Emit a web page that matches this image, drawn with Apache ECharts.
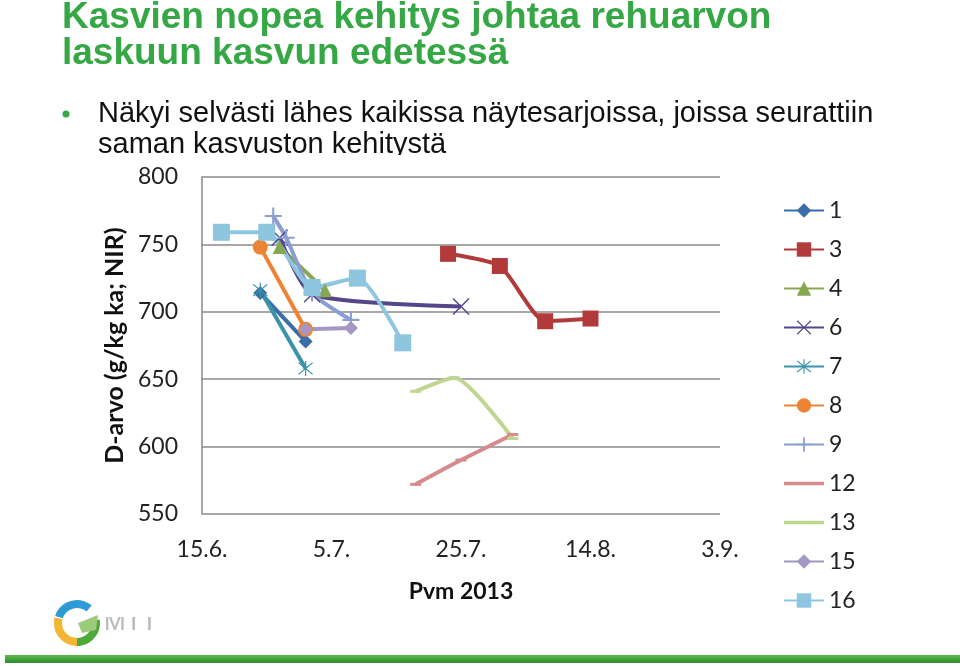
<!DOCTYPE html>
<html><head><meta charset="utf-8">
<script src="https://cdn.jsdelivr.net/npm/echarts@6/dist/echarts.min.js"></script>
<style>html,body{margin:0;padding:0;background:#fff}#c{width:960px;height:666px}</style>
</head><body><div id="c"></div>
<script>
// ---- data ----
const titleLines = ['Kasvien nopea kehitys johtaa rehuarvon', 'laskuun kasvun edetessä'];
const bulletLines = ['Näkyi selvästi lähes kaikissa näytesarjoissa, joissa seurattiin', 'saman kasvuston kehitystä'];
const yAxisName = 'D-arvo (g/kg ka; NIR)';
const xAxisName = 'Pvm 2013';
const xStart = '2013-06-15';
const xTickLabels = ['15.6.', '5.7.', '25.7.', '14.8.', '3.9.'];
const seriesNames = ['1', '3', '4', '6', '7', '8', '9', '12', '13', '15', '16'];

const s1Dates = ['2013-06-24', '2013-07-01'];
const s1Values = [714, 678];
const s3Dates = ['2013-07-23', '2013-07-31', '2013-08-07', '2013-08-14'];
const s3Values = [743, 734, 693, 695];
const s4Dates = ['2013-06-27', '2013-07-04'];
const s4Values = [748, 716];
const s6Dates = ['2013-06-27', '2013-07-02', '2013-07-25'];
const s6Values = [755, 713, 704];
const s7Dates = ['2013-06-24', '2013-07-01'];
const s7Values = [716, 658];
const s8Dates = ['2013-06-24', '2013-07-01'];
const s8Values = [748, 687];
const s9Dates = ['2013-06-26', '2013-06-28', '2013-07-02', '2013-07-08'];
const s9Values = [771, 755, 714, 694];
const s12Dates = ['2013-07-18', '2013-07-25', '2013-08-02'];
const s12Values = [572, 590, 609];
const s13Dates = ['2013-07-18', '2013-07-24', '2013-08-02'];
const s13Values = [641, 651, 606];
const s15Dates = ['2013-07-01', '2013-07-08'];
const s15Values = [687, 688];
const s16Dates = ['2013-06-18', '2013-06-25', '2013-07-02', '2013-07-09', '2013-07-16'];
const s16Values = [759, 759, 718, 725, 677];

// ---- build ----
const dayMs = 86400000;
const t0 = Date.parse(xStart + 'T00:00:00Z');
function pts(dates, vals) {
  return dates.map((d, i) => [(Date.parse(d + 'T00:00:00Z') - t0) / dayMs, vals[i]]);
}
const plusPath = 'path://M-0.12,-1H0.12V-0.12H1V0.12H0.12V1H-0.12V0.12H-1V-0.12H-0.12Z';
const xPath = 'path://M-1,-0.88L-0.88,-1L0,-0.12L0.88,-1L1,-0.88L0.12,0L1,0.88L0.88,1L0,0.12L-0.88,1L-1,0.88L-0.12,0Z';
const starPath = 'path://M-1,-0.88L-0.88,-1L0,-0.12L0.88,-1L1,-0.88L0.12,0L1,0.88L0.88,1L0,0.12L-0.88,1L-1,0.88L-0.12,0Z M-0.08,-1.2H0.08V1.2H-0.08Z';
const lineIcon = 'path://M0,0H40V3.4H0Z';

const defs = [
  {d: pts(s1Dates, s1Values), c: '#3B6EA8', sym: 'diamond', sz: 14},
  {d: pts(s3Dates, s3Values), c: '#B33A3A', sym: 'rect', sz: 16},
  {d: pts(s4Dates, s4Values), c: '#86A84E', sym: 'triangle', sz: 14},
  {d: pts(s6Dates, s6Values), c: '#55468A', sym: xPath, sz: 17},
  {d: pts(s7Dates, s7Values), c: '#3B93AB', sym: starPath, sz: 15},
  {d: pts(s8Dates, s8Values), c: '#EC8433', sym: 'circle', sz: 15},
  {d: pts(s9Dates, s9Values), c: '#8A9ED3', sym: plusPath, sz: 17},
  {d: pts(s12Dates, s12Values), c: '#D68B8D', sym: 'rect', sz: [11, 3], plain: true},
  {d: pts(s13Dates, s13Values), c: '#BED690', sym: 'rect', sz: [11, 3], plain: true},
  {d: pts(s15Dates, s15Values), c: '#A497C4', sym: 'diamond', sz: 14},
  {d: pts(s16Dates, s16Values), c: '#8DC6DE', sym: 'rect', sz: 17}
];
const series = defs.map((s, i) => ({
  name: seriesNames[i], type: 'line', data: s.d, smooth: 0.2,
  symbol: s.sym, symbolSize: s.sz,
  lineStyle: {color: s.c, width: 4},
  itemStyle: {color: s.c},
  emphasis: {disabled: true}, animation: false
}));
const legendData = seriesNames.map((n, i) => defs[i].plain ? {name: n, icon: lineIcon} : n);

const chart = echarts.init(document.getElementById('c'));
const font = 'Lato, "Open Sans", sans-serif';
chart.setOption({
  animation: false,
  backgroundColor: '#fff',
  grid: {left: 202, right: 240, top: 177, bottom: 152},
  xAxis: {
    type: 'value', min: 0, max: 80, interval: 20,
    axisLine: {show: false}, axisTick: {show: false}, splitLine: {show: false},
    axisLabel: {formatter: v => xTickLabels[v / 20], fontSize: 23, color: '#222', fontFamily: font, margin: 24},
    name: xAxisName, nameLocation: 'middle', nameGap: 66,
    nameTextStyle: {fontSize: 23, fontWeight: 'bold', color: '#111', fontFamily: font}
  },
  yAxis: {
    type: 'value', min: 550, max: 800, interval: 50,
    axisLine: {show: true, lineStyle: {color: '#888', width: 1.5}}, axisTick: {show: false},
    splitLine: {lineStyle: {color: '#8a8a8a', width: 1.5}},
    axisLabel: {fontSize: 23, color: '#222', fontFamily: font, margin: 24},
    name: yAxisName, nameLocation: 'middle', nameGap: 73, nameRotate: 90,
    nameTextStyle: {fontSize: 25, fontWeight: 'bold', color: '#111', fontFamily: font}
  },
  legend: {
    orient: 'vertical', left: 778, top: 194, itemWidth: 40, itemHeight: 18, itemGap: 16,
    data: legendData,
    textStyle: {fontSize: 23, color: '#222', fontFamily: font, lineHeight: 23},
    selectedMode: false
  },
  series: series,
  graphic: [
    {type: 'text', left: 62, top: -1, z: 10, style: {text: titleLines.join('\n'), fill: '#35A845', font: 'bold 37px "Liberation Sans", Arial, sans-serif', lineHeight: 36}},
    {type: 'circle', z: 10, shape: {cx: 66, cy: 114, r: 3.5}, style: {fill: '#35A845'}},
    {type: 'text', left: 98, top: 98, z: -20, style: {text: bulletLines.join('\n'), fill: '#111', font: '29px "Liberation Sans", Arial, sans-serif', lineHeight: 31}},
    {type: 'rect', z: -10, shape: {x: 0, y: 155, width: 960, height: 511}, style: {fill: '#fff'}},
    {type: 'arc', z: 5, shape: {cx: 77, cy: 623, r: 19, startAngle: Math.PI * 1.1, endAngle: Math.PI * 1.72}, style: {stroke: '#2F9BD6', lineWidth: 8, fill: null}},
    {type: 'arc', z: 5, shape: {cx: 77, cy: 623, r: 19, startAngle: Math.PI * 0.5, endAngle: Math.PI * 1.08}, style: {stroke: '#F2B632', lineWidth: 8, fill: null}},
    {type: 'arc', z: 5, shape: {cx: 77, cy: 623, r: 19, startAngle: Math.PI * -0.05, endAngle: Math.PI * 0.5}, style: {stroke: '#4FA93A', lineWidth: 8, fill: null}},
    {type: 'polygon', z: 5, shape: {points: [[78, 623], [98, 615], [96, 630], [82, 633]]}, style: {fill: '#9CCB7A'}},
    {type: 'text', left: 104, top: 610, z: 4, style: {text: 'MTT', fill: '#b8b8b8', font: '26px "Liberation Sans", Arial, sans-serif'}},
    {type: 'rect', z: 4.5, shape: {x: 100, y: 600, width: 70, height: 17}, style: {fill: '#fff'}},
    {type: 'rect', z: 5, shape: {x: 5, y: 655, width: 955, height: 8}, style: {fill: new echarts.graphic.LinearGradient(0, 0, 0, 1, [{offset: 0, color: '#5DBB4C'}, {offset: 1, color: '#2E8B2E'}])}}
  ]
});
</script></body></html>
